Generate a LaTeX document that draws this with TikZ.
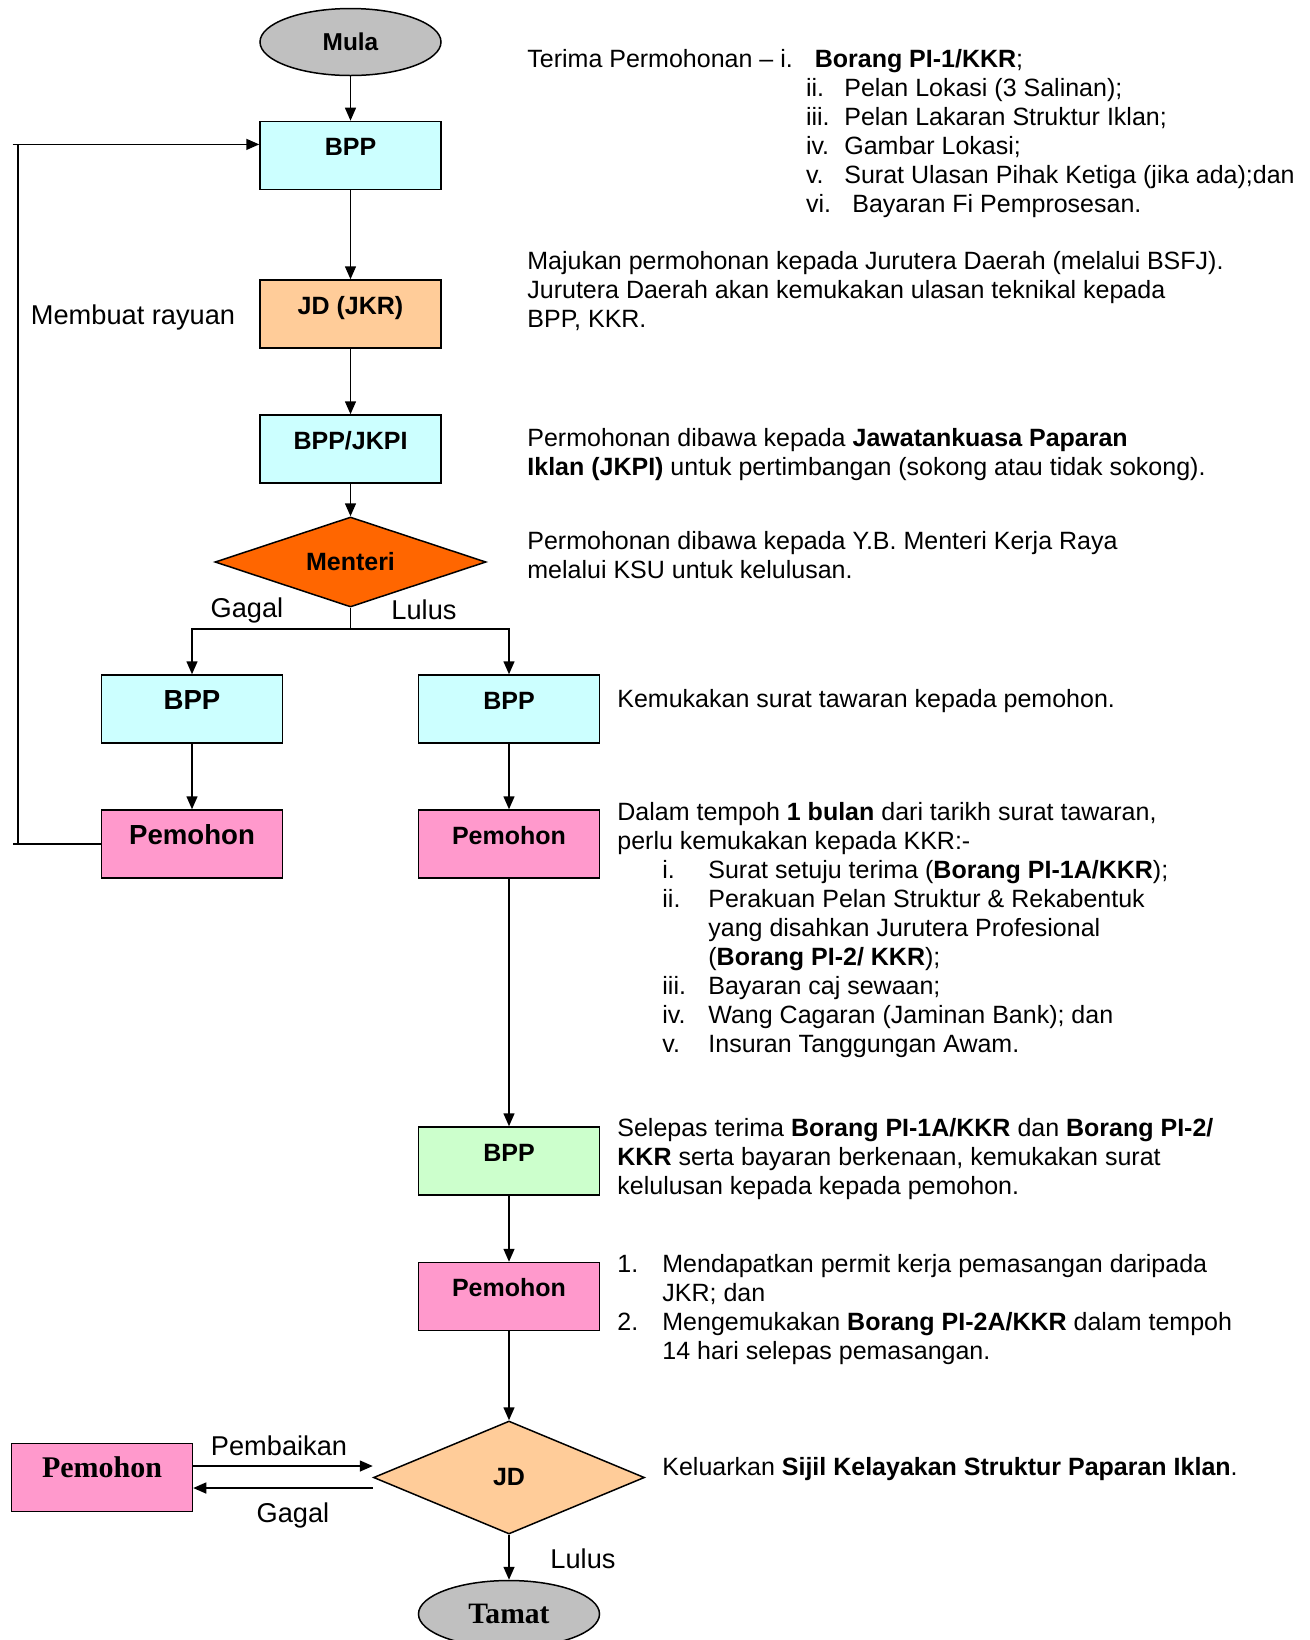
\documentclass[tikz,border=0pt]{standalone}
\usepackage{fontspec}
\setmainfont{Liberation Sans}
\newfontfamily\timesfont{Liberation Serif}
\usetikzlibrary{shapes.geometric,arrows.meta,positioning}
\definecolor{bppcyan}{HTML}{CCFFFF}
\definecolor{jdorange}{HTML}{FFCC99}
\definecolor{menteriorange}{HTML}{FF6600}
\definecolor{pemohonpink}{HTML}{FF99CC}
\definecolor{bppgreen}{HTML}{CCFFCC}
\definecolor{terminalgray}{HTML}{C0C0C0}
% numbered line: label in a fixed-width box
\newcommand{\numitem}[2]{\makebox[#1][l]{#2}}
\begin{document}
\begin{tikzpicture}[x=0.5pt,y=-0.5pt]
\tikzstyle{every node}=[inner sep=0pt]
\tikzstyle{terminal}=[ellipse,draw,line width=0.75pt,minimum width=90.5pt,minimum height=33.5pt,fill=terminalgray]
\tikzstyle{box}=[rectangle,draw,line width=0.75pt,minimum width=90.5pt,minimum height=34pt,
  font=\fontsize{12.5}{15}\selectfont\bfseries,text height=8pt,text depth=8pt]
\tikzstyle{bigbox}=[box,font=\fontsize{13.8}{16}\selectfont\bfseries]
\tikzstyle{decision}=[diamond,draw,line width=0.75pt,minimum width=135.5pt,font=\fontsize{12.5}{15}\selectfont\bfseries]
\tikzstyle{note}=[anchor=north west,align=left,font=\fontsize{12.5}{14.5}\selectfont]
\tikzstyle{lbl}=[font=\fontsize{13.6}{16}\selectfont]
\tikzstyle{conn}=[line width=0.75pt]
\tikzstyle{arr}=[conn,-{Triangle[length=6.5pt,width=5.5pt]}]
\useasboundingbox (0,0) rectangle (1310,1640);

% main column
\node[terminal,font=\fontsize{12.2}{15}\selectfont\bfseries] (mula) at (350.5,42) {Mula};
\node[box,fill=bppcyan] (bpp1) at (350.5,155.4) {BPP};
\node[box,fill=jdorange] (jkr) at (350.5,314) {JD (JKR)};
\node[box,fill=bppcyan] (jkpi) at (350.5,449) {BPP/JKPI};
\node[decision,fill=menteriorange,shape aspect=3,minimum height=45pt] (menteri) at (350.5,562) {Menteri};

% two branches
\node[bigbox,fill=bppcyan] (bppL) at (192,709) {BPP};
\node[box,fill=bppcyan] (bppR) at (509,709) {BPP};
\node[bigbox,fill=pemohonpink] (pemL) at (192,844) {Pemohon};
\node[box,fill=pemohonpink] (pemR) at (509,844) {Pemohon};
\node[box,fill=bppgreen] (bppG) at (509,1161) {BPP};
\node[box,fill=pemohonpink] (pemK) at (509,1296.5) {Pemohon};
\node[decision,fill=jdorange,shape aspect=2.4,minimum height=56.5pt] (jd) at (509,1477.5) {JD};
\node[terminal,font=\fontsize{14.8}{17}\selectfont\timesfont\bfseries] (tamat) at (509,1614) {Tamat};
\node[box,fill=pemohonpink,font=\fontsize{15}{17}\selectfont\timesfont\bfseries] (pemB) at (102,1477.5) {Pemohon};

% connectors
\draw[arr] (mula) -- (bpp1);
\draw[arr] (bpp1) -- (jkr);
\draw[arr] (jkr) -- (jkpi);
\draw[arr] (jkpi) -- (menteri);
\coordinate (split) at (350.5,629);
\draw[conn] (menteri.south) -- (split);
\draw[arr] (split) -| (bppL.north);
\draw[arr] (split) -| (bppR.north);
\draw[arr] (bppL) -- (pemL);
\draw[arr] (bppR) -- (pemR);
\draw[arr] (pemR) -- (bppG);
\draw[arr] (bppG) -- (pemK);
\draw[arr] (pemK) -- (jd);
\draw[arr] (jd) -- (tamat);

% rayuan loop
\coordinate (loopTL) at (12.5,144.4);
\coordinate (loopT) at (18,144.4);
\coordinate (loopB) at (18,844);
\coordinate (loopBL) at (12.5,844);
\draw[conn] (pemL.west) -- (loopBL);
\draw[conn] (loopB) -- (loopT);
\draw[arr] (loopTL) -- (loopTL -| bpp1.west);

% pembaikan / gagal
\coordinate (baikiA) at ([yshift=5.75pt]pemB.east);
\coordinate (gagalA) at ([yshift=-5.25pt]jd.west);
\draw[arr] (baikiA) -- (baikiA -| jd.west);
\draw[arr] (gagalA) -- (gagalA -| pemB.east);

% labels
\node[lbl] (rayuan) at (133,317) {Membuat rayuan};
\node[lbl] (gagal1) at (247,610) {Gagal};
\node[lbl] (lulus1) at (424,610) {Lulus};
\node[lbl] (baiki) at (279,1446) {Pembaikan};
\node[lbl] (gagal2) at (293,1515) {Gagal};
\node[lbl] (lulus2) at (583,1559) {Lulus};

% notes on the right
\node[note] (terima) at (527,48.6) {Terima Permohonan – i.\hspace{11pt}\textbf{Borang PI-1/KKR};};
\node[note] (dokumen) at (805.6,78) {\numitem{19.2pt}{ii.}Pelan Lokasi (3 Salinan);\\
  \numitem{19.2pt}{iii.}Pelan Lakaran Struktur Iklan;\\
  \numitem{19.2pt}{iv.}Gambar Lokasi;\\
  \numitem{19.2pt}{v.}Surat Ulasan Pihak Ketiga (jika ada);dan\\
  \numitem{23.2pt}{vi.}Bayaran Fi Pemprosesan.};
\node[note] (majukan) at (527,250.5) {Majukan permohonan kepada Jurutera Daerah (melalui BSFJ).\\
  Jurutera Daerah akan kemukakan ulasan teknikal kepada\\
  BPP, KKR.};
\node[note] (jkpinote) at (527,428) {Permohonan dibawa kepada \textbf{Jawatankuasa Paparan}\\
  \textbf{Iklan (JKPI)} untuk pertimbangan (sokong atau tidak sokong).};
\node[note] (menterinote) at (527,531) {Permohonan dibawa kepada Y.B. Menteri Kerja Raya\\
  melalui KSU untuk kelulusan.};
\node[note] (tawaran) at (617,689) {Kemukakan surat tawaran kepada pemohon.};
\node[note] (tempoh) at (617,802) {Dalam tempoh \textbf{1 bulan} dari tarikh surat tawaran,\\
  perlu kemukakan kepada KKR:-\\
  \hspace*{22.5pt}\numitem{23pt}{i.}Surat setuju terima (\textbf{Borang PI-1A/KKR});\\
  \hspace*{22.5pt}\numitem{23pt}{ii.}Perakuan Pelan Struktur \& Rekabentuk\\
  \hspace*{45.5pt}yang disahkan Jurutera Profesional\\
  \hspace*{45.5pt}(\textbf{Borang PI-2/ KKR});\\
  \hspace*{22.5pt}\numitem{23pt}{iii.}Bayaran caj sewaan;\\
  \hspace*{22.5pt}\numitem{23pt}{iv.}Wang Cagaran (Jaminan Bank); dan\\
  \hspace*{22.5pt}\numitem{23pt}{v.}Insuran Tanggungan Awam.};
\node[note] (lulusnote) at (617,1118) {Selepas terima \textbf{Borang PI-1A/KKR} dan \textbf{Borang PI-2/}\\
  \textbf{KKR} serta bayaran berkenaan, kemukakan surat\\
  kelulusan kepada kepada pemohon.};
\node[note] (permit) at (617,1254) {\numitem{22.5pt}{1.}Mendapatkan permit kerja pemasangan daripada\\
  \hspace*{22.5pt}JKR; dan\\
  \numitem{22.5pt}{2.}Mengemukakan \textbf{Borang PI-2A/KKR} dalam tempoh\\
  \hspace*{22.5pt}14 hari selepas pemasangan.};
\node[note] (sijil) at (662,1457) {Keluarkan \textbf{Sijil Kelayakan Struktur Paparan Iklan}.};
\end{tikzpicture}
\end{document}
